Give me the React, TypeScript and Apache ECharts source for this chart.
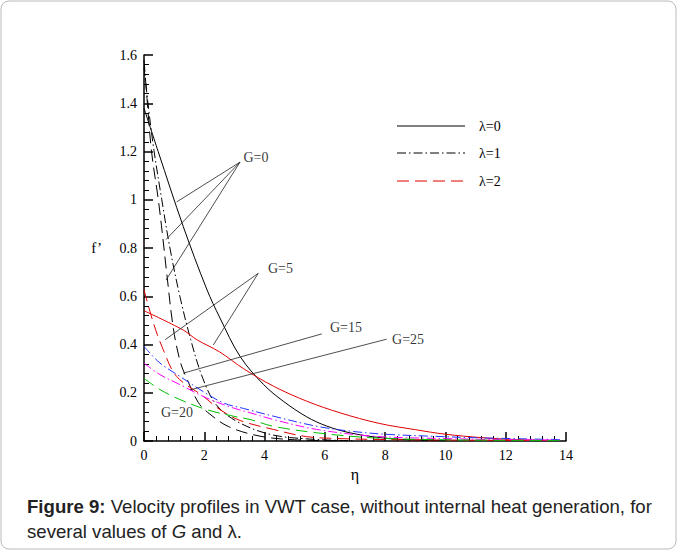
import React, { useEffect, useRef } from "react";
import * as echarts from "echarts";

// eta, f' pairs
const G0_L0: [number, number][] = [
  [0, 1.38], [0.47, 1.2], [1.3, 0.89], [2.08, 0.63], [2.52, 0.51], [3.19, 0.35],
  [3.96, 0.235], [4.62, 0.165], [5.4, 0.1], [6.06, 0.062], [6.83, 0.034], [7.9, 0.013],
  [9, 0.004], [10, 0.001],
];
const G0_L1: [number, number][] = [
  [0, 1.55], [0.15, 1.38], [0.33, 1.205], [0.59, 1.0], [0.86, 0.8], [1.19, 0.6],
  [1.55, 0.42], [1.95, 0.26], [2.4, 0.15], [3.1, 0.08], [4.2, 0.027], [5.5, 0.008], [7, 0.001],
];
const G0_L2: [number, number][] = [
  [0, 1.58], [0.1, 1.42], [0.25, 1.2], [0.475, 1.0], [0.6, 0.87], [0.75, 0.7],
  [0.97, 0.47], [1.2, 0.33], [1.45, 0.25], [1.8, 0.16], [2.1, 0.12], [2.8, 0.06],
  [3.85, 0.02], [5, 0.005], [6.5, 0.001],
];
const G5_L0: [number, number][] = [
  [0, 0.54], [1.3, 0.46], [1.75, 0.42], [2.5, 0.37], [3.3, 0.3], [4.3, 0.227],
  [5.4, 0.165], [6.5, 0.117], [7.8, 0.073], [9, 0.047], [10, 0.028], [11.2, 0.014],
  [12.3, 0.006], [13.5, 0.002],
];
const G5_L2: [number, number][] = [
  [0, 0.627], [0.31, 0.49], [0.64, 0.378], [1.08, 0.268], [1.97, 0.185], [2.52, 0.13],
  [3.19, 0.085], [4.29, 0.048], [5.4, 0.018], [6.5, 0.01], [8, 0.006], [10, 0.004], [13, 0.002],
];
const G15_L1: [number, number][] = [
  [0, 0.392], [0.53, 0.323], [1.19, 0.268], [1.86, 0.213], [2.63, 0.158], [3.3, 0.135],
  [4.29, 0.103], [5.73, 0.061], [6.83, 0.041], [8, 0.028], [9.5, 0.02], [11.15, 0.013], [13.8, 0.006],
];
const G25_L1: [number, number][] = [
  [0, 0.323], [0.53, 0.275], [1.19, 0.234], [2.08, 0.178], [2.96, 0.137], [3.52, 0.117],
  [4.29, 0.089], [5.73, 0.048], [7.6, 0.02], [10, 0.01], [12, 0.006], [13.8, 0.004],
];
const G20_L2: [number, number][] = [
  [0, 0.26], [0.53, 0.213], [1.19, 0.172], [2.08, 0.13], [2.96, 0.103], [3.52, 0.089],
  [4.29, 0.061], [5.73, 0.034], [7.6, 0.013], [10, 0.005], [13.8, 0.002],
];

// annotation pointers (data coordinates): [from, to]
const POINTERS: [number, number][][] = [
  [[3.185, 1.156], [1.085, 0.991]],
  [[3.185, 1.156], [0.73, 0.835]],
  [[3.185, 1.156], [0.73, 0.667]],
  [[3.79, 0.695], [0.7, 0.42]],
  [[3.79, 0.695], [2.3, 0.398]],
  [[5.9, 0.444], [1.3, 0.281]],
  [[8.05, 0.422], [1.53, 0.212]],
];
const LABELS: { name: string; value: [number, number] }[] = [
  { name: "G=0", value: [3.3, 1.176] },
  { name: "G=5", value: [4.11, 0.717] },
  { name: "G=15", value: [6.17, 0.469] },
  { name: "G=25", value: [8.23, 0.419] },
  { name: "G=20", value: [0.56, 0.117] },
];
const LEGEND_NAMES = ["λ=0", "λ=1", "λ=2"];

const SERIF = "'Liberation Serif', 'Times New Roman', serif";
const SANS = "'Liberation Sans', Arial, sans-serif";
const DASH_DOT = [9, 3, 1.5, 3];
const DASH = [12, 6];

function curve(name: string, data: [number, number][], color: string, type: any) {
  return {
    name,
    type: "line",
    data,
    showSymbol: false,
    smooth: 0.35,
    silent: true,
    lineStyle: { color, width: 1, type },
    z: 3,
  };
}

export default function App() {
  const ref = useRef<HTMLDivElement>(null);
  useEffect(() => {
    const chart = echarts.init(ref.current!, null, { renderer: "svg" });
    const legendY = [126, 153, 181];
    const legendStyles = [
      { stroke: "#000", lineDash: null },
      { stroke: "#000", lineDash: DASH_DOT },
      { stroke: "#e00000", lineDash: DASH },
    ];
    const option: any = {
      animation: false,
      backgroundColor: "#fff",
      grid: { left: 144, top: 55, width: 422, height: 386 },
      xAxis: {
        type: "value",
        min: 0,
        max: 14,
        interval: 2,
        name: "η",
        nameLocation: "middle",
        nameGap: 17,
        nameTextStyle: { fontFamily: SERIF, fontSize: 16, color: "#000" },
        axisLine: { lineStyle: { color: "#000", width: 1.5 } },
        axisTick: { inside: true, length: 9, lineStyle: { color: "#000", width: 1.5 } },
        minorTick: { show: true, splitNumber: 5, length: 5, lineStyle: { color: "#000", width: 1 } },
        axisLabel: { fontFamily: SERIF, fontSize: 14, color: "#000", margin: 7 },
        splitLine: { show: false },
      },
      yAxis: {
        type: "value",
        min: 0,
        max: 1.6,
        interval: 0.2,
        name: "f’",
        nameLocation: "middle",
        nameRotate: 0,
        nameGap: 42,
        nameTextStyle: { fontFamily: SERIF, fontSize: 15, color: "#000" },
        axisLine: { lineStyle: { color: "#000", width: 1.5 } },
        axisTick: { inside: true, length: 9, lineStyle: { color: "#000", width: 1.5 } },
        minorTick: { show: true, splitNumber: 5, length: 5, lineStyle: { color: "#000", width: 1 } },
        axisLabel: { fontFamily: SERIF, fontSize: 14, color: "#000", margin: 7 },
        splitLine: { show: false },
      },
      series: [
        curve("G=0 λ=0", G0_L0, "#000", "solid"),
        curve("G=0 λ=1", G0_L1, "#000", DASH_DOT),
        curve("G=0 λ=2", G0_L2, "#000", DASH),
        curve("G=5 λ=0", G5_L0, "#e00000", "solid"),
        curve("G=5 λ=2", G5_L2, "#e00000", DASH),
        curve("G=15 λ=1", G15_L1, "#2233ff", DASH_DOT),
        curve("G=25 λ=1", G25_L1, "#ff00ff", DASH_DOT),
        curve("G=20 λ=2", G20_L2, "#00c000", DASH),
        {
          name: "pointers",
          type: "line",
          data: [],
          silent: true,
          markLine: {
            silent: true,
            symbol: ["none", "none"],
            label: { show: false },
            lineStyle: { color: "#222", width: 0.8, type: "solid" },
            data: POINTERS.map((p) => [{ coord: p[0] }, { coord: p[1] }]),
          },
        },
        {
          name: "labels",
          type: "scatter",
          symbolSize: 0,
          silent: true,
          data: LABELS,
          label: {
            show: true,
            position: "right",
            distance: 0,
            formatter: (p: any) => p.name,
            fontFamily: SERIF,
            fontSize: 14,
            color: "#000",
          },
        },
      ],
      graphic: [
        {
          type: "rect",
          shape: { x: 1, y: 1, width: 675, height: 548, r: 8 },
          style: { fill: "none", stroke: "#bbb", lineWidth: 1 },
          silent: true,
        },
        ...LEGEND_NAMES.flatMap((name, i) => [
          {
            type: "line",
            shape: { x1: 397, y1: legendY[i], x2: 465, y2: legendY[i] },
            style: { stroke: legendStyles[i].stroke, lineWidth: 1, lineDash: legendStyles[i].lineDash },
            silent: true,
          },
          {
            type: "text",
            x: 479,
            y: legendY[i],
            style: {
              text: name,
              fontFamily: SERIF,
              fontSize: 14,
              fill: "#000",
              verticalAlign: "middle",
            },
            silent: true,
          },
        ]),
        {
          type: "text",
          x: 27,
          y: 494,
          style: {
            text:
              "{b|Figure 9:} Velocity profiles in VWT case, without internal heat generation, for\nseveral values of {i|G} and λ.",
            fontFamily: SANS,
            fontSize: 18.6,
            lineHeight: 25,
            fill: "#222",
            rich: {
              b: { fontWeight: "bold", fontFamily: SANS, fontSize: 18.6, lineHeight: 25, fill: "#222" },
              i: { fontStyle: "italic", fontFamily: SANS, fontSize: 18.6, lineHeight: 25, fill: "#222" },
            },
          },
          silent: true,
        },
      ],
    };
    chart.setOption(option);
    return () => chart.dispose();
  }, []);
  return (
    <div
      ref={ref}
      style={{ position: "fixed", left: 0, top: 0, width: 677, height: 552, background: "#fff" }}
    />
  );
}
